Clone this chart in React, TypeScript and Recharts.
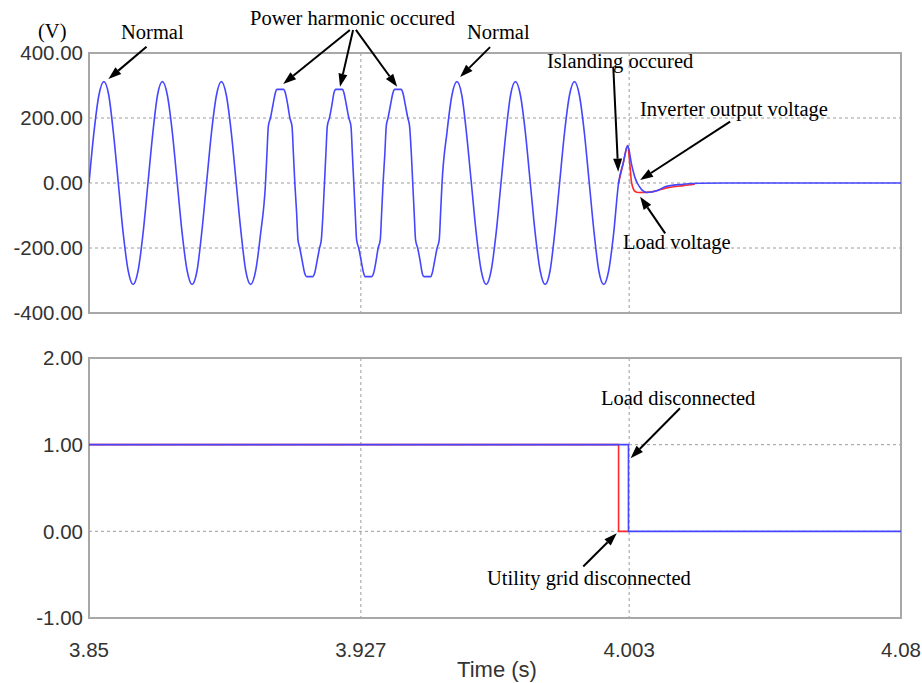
import React from 'react';
import {
  CartesianGrid,
  Line,
  LineChart,
  ReferenceArea,
  ReferenceLine,
  XAxis,
  YAxis,
} from 'recharts';

// axis ticks
const timeTicks = [3.85, 3.927, 4.003, 4.08];
const voltTicks = [-400, -200, 0, 200, 400];
const signalTicks = [-1, 0, 1, 2];

// inverter output voltage (blue)
const inverterTime = [
  3.85, 3.8514, 3.8528, 3.8542, 3.8556, 3.8569, 3.8583, 3.8597, 3.8611, 3.8625, 3.8639, 3.8653,
  3.8667, 3.8681, 3.8694, 3.8708, 3.8722, 3.8736, 3.875, 3.8764, 3.8778, 3.8792, 3.8806, 3.8819,
  3.8833, 3.8847, 3.8861, 3.8875, 3.8889, 3.8903, 3.8917, 3.8931, 3.8944, 3.8958, 3.8972, 3.8986,
  // harmonic cycles
  3.9, 3.9004, 3.9008, 3.9014, 3.9021, 3.9028, 3.9032, 3.9042, 3.9051, 3.9056, 3.9063, 3.9069, 3.9075, 3.9079,
  3.9083, 3.9088, 3.9092, 3.9097, 3.9104, 3.9111, 3.9116, 3.9125, 3.9134, 3.9139, 3.9146, 3.9153, 3.9158, 3.9163,
  3.9167, 3.9171, 3.9175, 3.9181, 3.9188, 3.9194, 3.9199, 3.9208, 3.9218, 3.9222, 3.9229, 3.9236, 3.9242, 3.9246,
  3.925, 3.9254, 3.9258, 3.9264, 3.9271, 3.9278, 3.9282, 3.9292, 3.9301, 3.9306, 3.9313, 3.9319, 3.9325, 3.9329,
  3.9333, 3.9338, 3.9342, 3.9347, 3.9354, 3.9361, 3.9366, 3.9375, 3.9384, 3.9389, 3.9396, 3.9403, 3.9408, 3.9413,
  3.9417, 3.9421, 3.9425, 3.9431, 3.9438, 3.9444, 3.9449, 3.9458, 3.9468, 3.9472, 3.9479, 3.9486, 3.9492, 3.9496,
  // normal again
  3.95, 3.9514, 3.9528, 3.9542, 3.9556, 3.9569, 3.9583, 3.9597, 3.9611, 3.9625, 3.9639, 3.9653,
  3.9667, 3.9681, 3.9694, 3.9708, 3.9722, 3.9736, 3.975, 3.9764, 3.9778, 3.9792, 3.9806, 3.9819,
  3.9833, 3.9847, 3.9861, 3.9875, 3.9889, 3.9903, 3.9917, 3.9931, 3.9944, 3.9958, 3.9972, 3.9986,
  // islanding
  4.0, 4.0013, 4.0026, 4.0037, 4.0047, 4.0053, 4.0066, 4.008, 4.0108, 4.0136, 4.0183, 4.0231, 4.03, 4.08,
];
const inverterVolt = [
  0, 156, 270, 312, 270, 156, 0, -156, -270, -312, -270, -156,
  0, 156, 270, 312, 270, 156, 0, -156, -270, -312, -270, -156,
  0, 156, 270, 312, 270, 156, 0, -156, -270, -312, -270, -156,
  0, 90, 175, 200, 240, 278, 288, 288, 288, 278, 240, 200, 175, 90,
  0, -90, -175, -200, -240, -278, -288, -288, -288, -278, -240, -200, -175, -90,
  0, 90, 175, 200, 240, 278, 288, 288, 288, 278, 240, 200, 175, 90,
  0, -90, -175, -200, -240, -278, -288, -288, -288, -278, -240, -200, -175, -90,
  0, 90, 175, 200, 240, 278, 288, 288, 288, 278, 240, 200, 175, 90,
  0, -90, -175, -200, -240, -278, -288, -288, -288, -278, -240, -200, -175, -90,
  0, 156, 270, 312, 270, 156, 0, -156, -270, -312, -270, -156,
  0, 156, 270, 312, 270, 156, 0, -156, -270, -312, -270, -156,
  0, 156, 270, 312, 270, 156, 0, -156, -270, -312, -270, -156,
  0, 60, 115, 56, 15, 0, -21, -29, -24, -10, -4, -1, 0, 0,
];

// load voltage (red), only visible after islanding
const loadTime = [4.0, 4.0013, 4.0026, 4.0032, 4.0037, 4.0047, 4.0056, 4.0089, 4.0136, 4.0183, 4.0216];
const loadVolt = [0, 60, 115, 56, 0, -26, -29, -28, -15, -8, -4];

// breaker signals
const gridTime = [3.85, 4.0, 4.0028];
const gridState = [1, 0, 0];
const loadSwTime = [3.85, 4.0028, 4.08];
const loadSwState = [1, 0, 0];

const inverterRows = inverterTime.map((t, i) => ({ t, v: inverterVolt[i] }));
const loadRows = loadTime.map((t, i) => ({ t, v: loadVolt[i] }));
const gridRows = gridTime.map((t, i) => ({ t, v: gridState[i] }));
const loadSwRows = loadSwTime.map((t, i) => ({ t, v: loadSwState[i] }));

// annotation arrows, tail -> head, in data units
const voltArrows = [
  [3.8663, 419, 3.8555, 320],
  [3.9239, 471, 3.905, 305],
  [3.9248, 471, 3.9211, 296],
  [3.9256, 471, 3.9373, 296],
  [3.9636, 418, 3.9551, 326],
  [3.9985, 358, 3.9999, 35],
  [4.0316, 189, 4.0061, 9],
  [4.0132, -155, 4.0061, -42],
];
const signalArrows = [
  [4.0174, 1.421, 4.0034, 0.844],
  [3.99, -0.406, 3.9995, -0.021],
];

const notes = [
  { text: '(V)', x: 38, y: 38 },
  { text: 'Normal', x: 121, y: 39 },
  { text: 'Power harmonic occured', x: 250, y: 25 },
  { text: 'Normal', x: 467, y: 39 },
  { text: 'Islanding occured', x: 547, y: 68 },
  { text: 'Inverter output voltage', x: 640, y: 116 },
  { text: 'Load voltage', x: 623, y: 249 },
  { text: 'Load disconnected', x: 601, y: 405 },
  { text: 'Utility grid disconnected', x: 487, y: 585 },
];

const SANS = '"Liberation Sans", Arial, sans-serif';
const SERIF = '"Liberation Serif", "Times New Roman", serif';
const BLUE = '#4646ff';
const RED = '#ff2b2b';
const FRAME = '#a8a8a8';
const GRID = '#9c9c9c';

const tickStyle = { fill: '#333', fontSize: 20.5, fontFamily: SANS };

function Arrow(p: any) {
  const { x1, y1, x2, y2 } = p;
  const a = Math.atan2(y2 - y1, x2 - x1);
  const len = 13;
  const half = 4.5;
  const bx = x2 - len * Math.cos(a);
  const by = y2 - len * Math.sin(a);
  const pts = [
    [x2, y2],
    [bx + half * Math.sin(a), by - half * Math.cos(a)],
    [bx - half * Math.sin(a), by + half * Math.cos(a)],
  ]
    .map((q) => q.join(','))
    .join(' ');
  return (
    <g>
      <line x1={x1} y1={y1} x2={bx} y2={by} stroke="#000" strokeWidth={2} />
      <polygon points={pts} fill="#000" />
    </g>
  );
}

function arrowLines(list: number[][], prefix: string) {
  return list.map((a, i) => (
    <ReferenceLine
      key={prefix + i}
      segment={[
        { x: a[0], y: a[1] },
        { x: a[2], y: a[3] },
      ]}
      ifOverflow="visible"
      shape={Arrow}
    />
  ));
}

export default function App() {
  return (
    <div style={{ position: 'absolute', left: 0, top: 0, width: 922, height: 683, background: '#fff' }}>
      <div style={{ position: 'absolute', left: 0, top: 0 }}>
        <LineChart width={922} height={340} margin={{ top: 53, right: 21, bottom: 27, left: 0 }}>
          <CartesianGrid
            stroke={GRID}
            strokeDasharray="3 3"
            horizontalValues={[-200, 0, 200]}
            verticalValues={[3.927, 4.003]}
          />
          <XAxis type="number" dataKey="t" domain={[3.85, 4.08]} ticks={timeTicks} hide allowDataOverflow />
          <YAxis
            type="number"
            domain={[-400, 400]}
            ticks={voltTicks}
            width={89}
            axisLine={false}
            tickLine={false}
            tickMargin={0}
            tick={tickStyle}
            tickFormatter={(v: number) => v.toFixed(2)}
            interval={0}
          />
          <ReferenceArea
            x1={3.85}
            x2={4.08}
            y1={-400}
            y2={400}
            fill="none"
            fillOpacity={0}
            stroke={FRAME}
            strokeWidth={2}
            ifOverflow="visible"
          />
          <Line data={loadRows} dataKey="v" type="monotone" stroke={RED} strokeWidth={1.6} dot={false} isAnimationActive={false} />
          <Line data={inverterRows} dataKey="v" type="monotone" stroke={BLUE} strokeWidth={1.6} dot={false} isAnimationActive={false} />
          {arrowLines(voltArrows, 'va')}
        </LineChart>
      </div>
      <div style={{ position: 'absolute', left: 0, top: 330 }}>
        <LineChart width={922} height={353} margin={{ top: 28, right: 21, bottom: 25, left: 0 }}>
          <CartesianGrid
            stroke={GRID}
            strokeDasharray="3 3"
            horizontalValues={[0, 1]}
            verticalValues={[3.927, 4.003]}
          />
          <XAxis
            type="number"
            dataKey="t"
            domain={[3.85, 4.08]}
            ticks={timeTicks}
            interval={0}
            height={40}
            axisLine={false}
            tickLine={false}
            tickMargin={18}
            tick={tickStyle}
            allowDataOverflow
          />
          <YAxis
            type="number"
            domain={[-1, 2]}
            ticks={signalTicks}
            width={89}
            axisLine={false}
            tickLine={false}
            tickMargin={0}
            tick={tickStyle}
            tickFormatter={(v: number) => v.toFixed(2)}
            interval={0}
          />
          <ReferenceArea
            x1={3.85}
            x2={4.08}
            y1={-1}
            y2={2}
            fill="none"
            fillOpacity={0}
            stroke={FRAME}
            strokeWidth={2}
            ifOverflow="visible"
          />
          <Line data={gridRows} dataKey="v" type="stepAfter" stroke={RED} strokeWidth={1.6} dot={false} isAnimationActive={false} />
          <Line data={loadSwRows} dataKey="v" type="stepAfter" stroke={BLUE} strokeWidth={1.6} dot={false} isAnimationActive={false} />
          {arrowLines(signalArrows, 'sa')}
        </LineChart>
      </div>
      <svg width={922} height={683} style={{ position: 'absolute', left: 0, top: 0, pointerEvents: 'none' }}>
        {notes.map((n, i) => (
          <text key={i} x={n.x} y={n.y} fontFamily={SERIF} fontSize={20.5} fill="#000">
            {n.text}
          </text>
        ))}
        <text x={497} y={677} textAnchor="middle" fontFamily={SANS} fontSize={22} fill="#333">
          Time (s)
        </text>
      </svg>
    </div>
  );
}
